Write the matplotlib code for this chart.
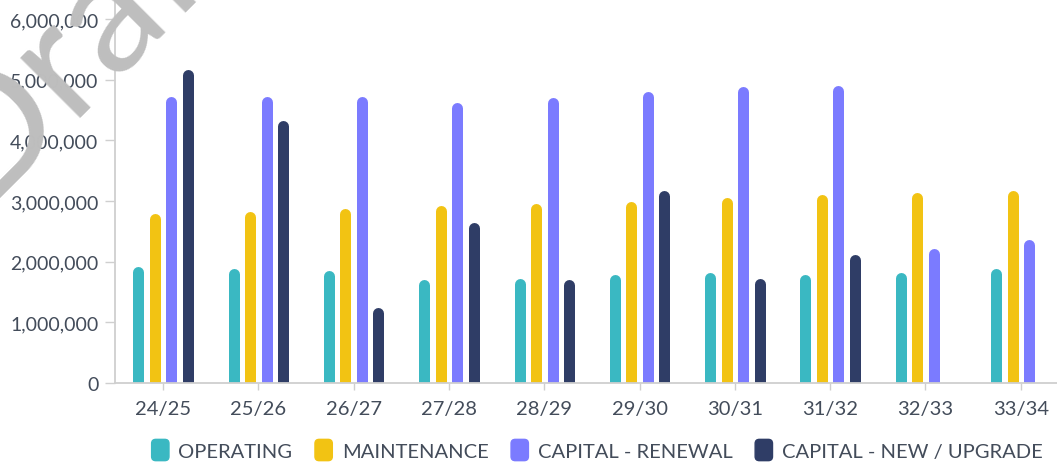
import matplotlib
matplotlib.use("Agg")
import matplotlib.pyplot as plt
from matplotlib.patches import Patch, FancyBboxPatch
from matplotlib.legend_handler import HandlerPatch
from matplotlib.ticker import FuncFormatter

# values (top of each rounded bar)
years = ["24/25", "25/26", "26/27", "27/28", "28/29", "29/30", "30/31", "31/32", "32/33", "33/34"]
operating = [1920000, 1890000, 1850000, 1700000, 1720000, 1790000, 1820000, 1790000, 1820000, 1890000]
maintenance = [2800000, 2830000, 2880000, 2920000, 2960000, 3000000, 3050000, 3100000, 3140000, 3180000]
renewal = [4730000, 4730000, 4730000, 4630000, 4700000, 4810000, 4890000, 4910000, 2210000, 2370000]
new_upgrade = [5160000, 4330000, 1240000, 2640000, 1700000, 3170000, 1730000, 2120000, 0, 0]

series = [
    ("OPERATING", operating, "#3AB8C2"),
    ("MAINTENANCE", maintenance, "#F2C313"),
    ("CAPITAL - RENEWAL", renewal, "#7B7BFF"),
    ("CAPITAL - NEW / UPGRADE", new_upgrade, "#2F3D66"),
]

text_col = "#434C5A"
axis_col = "#CFCFCF"

plt.rcParams["font.family"] = ["Lato", "DejaVu Sans"]


def rounded_box(legend, orig_handle, xdescent, ydescent, width, height, fontsize):
    return FancyBboxPatch((-xdescent + 1, -ydescent), width - 2, height,
                          boxstyle="round,pad=0,rounding_size=3")


fig = plt.figure(figsize=(10.57, 4.64), dpi=100)
ax = fig.add_axes([115 / 1057, 80 / 464, 1 - 115 / 1057, 384 / 464])
ymax = 6330000
ax.set_ylim(0, ymax)
ax.set_xlim(-0.504, 9.38)

bar_px = 11
r_data = (bar_px / 2) * ymax / 384  # cap radius in data units
offset = 0.173
for i, (name, vals, col) in enumerate(series):
    dx = (i - 1.5) * offset
    for j, v in enumerate(vals):
        if v <= 0:
            continue
        ax.plot([j + dx, j + dx], [-r_data, v - r_data], color=col,
                lw=bar_px * 0.72, solid_capstyle="round", clip_on=True)

ax.set_xticks(range(len(years)))
ax.set_xticklabels(years)
ax.set_yticks(range(0, 7000000, 1000000))
ax.yaxis.set_major_formatter(FuncFormatter(lambda v, p: f"{int(v):,}"))

for s in ["top", "right"]:
    ax.spines[s].set_visible(False)
for s in ["left", "bottom"]:
    ax.spines[s].set_color(axis_col)
    ax.spines[s].set_linewidth(1.3)
ax.tick_params(axis="y", length=7, width=1, color=axis_col, labelsize=14, labelcolor=text_col, pad=5)
ax.tick_params(axis="x", length=5, width=1, color=axis_col, labelsize=14.5, labelcolor=text_col, pad=7)

handles = [Patch(facecolor=c, edgecolor=c, label=n) for n, _, c in series]
fig.legend(handles=handles, loc="center", bbox_to_anchor=(0.5643, 0.028), ncol=4,
           frameon=False, fontsize=14.5, labelcolor=text_col, handlelength=1.0,
           handleheight=1.25, handletextpad=0.4, columnspacing=1.05,
           handler_map={Patch: HandlerPatch(patch_func=rounded_box)})

# faint watermark at top-left, mostly outside the canvas
fig.text(-0.02, 0.56, "Draft", fontsize=120, color="#BEBEBE", rotation=45,
         rotation_mode="anchor", ha="left", va="baseline", zorder=0)

fig.savefig("out.png", dpi=100)
